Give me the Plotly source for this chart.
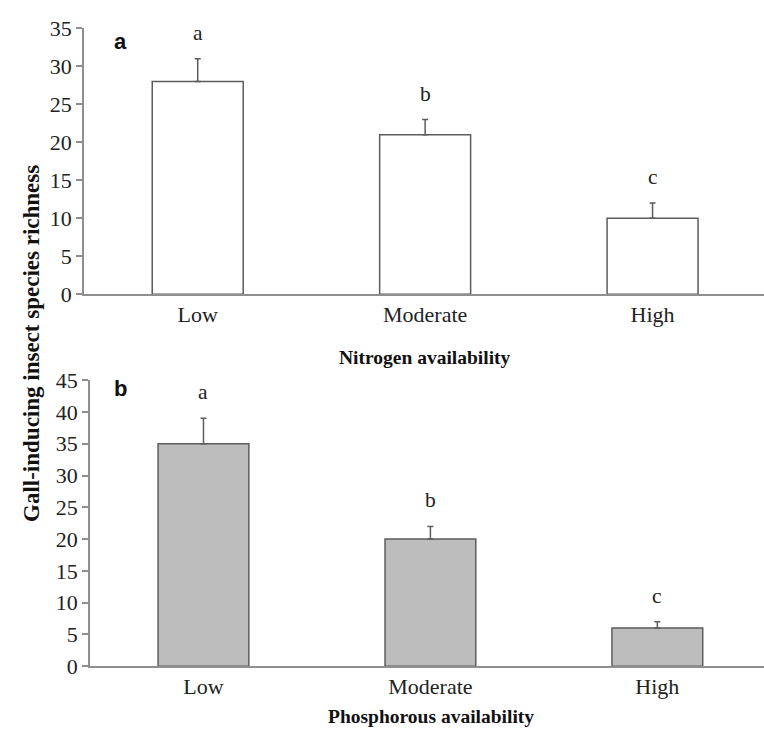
import plotly.graph_objects as go

categories = ["Low", "Moderate", "High"]
nitrogen_vals = [28, 21, 10]
nitrogen_err = [3, 2, 2]
nitrogen_letters = ["a", "b", "c"]
phos_vals = [35, 20, 6]
phos_err = [4, 2, 1]
phos_letters = ["a", "b", "c"]

W, H = 764, 743
def py(p):
    return 1 - p / H

serif = "Liberation Serif"
sans = "Liberation Sans"
axis_col = "#8f8f8f"
edge_col = "#5c5c5c"

fig = go.Figure()
fig.add_trace(go.Bar(
    x=categories, y=nitrogen_vals, width=0.40,
    marker=dict(color="white", line=dict(color=edge_col, width=1.5)),
    error_y=dict(type="data", array=nitrogen_err, arrayminus=[0]*3, symmetric=False,
                 color=edge_col, thickness=1.5, width=3),
    xaxis="x", yaxis="y", showlegend=False))
fig.add_trace(go.Bar(
    x=categories, y=phos_vals, width=0.40,
    marker=dict(color="#bdbdbd", line=dict(color=edge_col, width=1.5)),
    error_y=dict(type="data", array=phos_err, arrayminus=[0]*3, symmetric=False,
                 color=edge_col, thickness=1.5, width=3),
    xaxis="x2", yaxis="y2", showlegend=False))

annotations = []
for c, v, e, t in zip(categories, nitrogen_vals, nitrogen_err, nitrogen_letters):
    annotations.append(dict(x=c, y=v + e, xref="x", yref="y", text=t, showarrow=False,
                            yanchor="bottom", yshift=12, font=dict(family=serif, size=21.5, color="#222")))
for c, v, e, t in zip(categories, phos_vals, phos_err, phos_letters):
    annotations.append(dict(x=c, y=v + e, xref="x2", yref="y2", text=t, showarrow=False,
                            yanchor="bottom", yshift=12, font=dict(family=serif, size=21.5, color="#222")))

annotations += [
    dict(x=112 / W, y=py(16), xref="paper", yref="paper", text="<b>a</b>", showarrow=False,
         font=dict(family=sans, size=22, color="#111")),
    dict(x=112 / W, y=py(390), xref="paper", yref="paper", text="<b>b</b>", showarrow=False,
         font=dict(family=sans, size=22, color="#111")),
    dict(x=425 / W, y=py(358), xref="paper", yref="paper", text="<b>Nitrogen availability</b>",
         showarrow=False, font=dict(family=serif, size=19.5, color="#111")),
    dict(x=431 / W, y=py(742), xref="paper", yref="paper", text="<b>Phosphorous availability</b>",
         yanchor="bottom", showarrow=False, font=dict(family=serif, size=19.5, color="#111")),
    dict(x=17 / W, y=py(343), xref="paper", yref="paper",
         text="<b>Gall-inducing insect species richness</b>", textangle=-90,
         showarrow=False, font=dict(family=serif, size=23, color="#111")),
]

tickfont = dict(family=serif, size=22, color="#222")
fig.update_layout(
    width=W, height=H, margin=dict(l=0, r=0, t=0, b=0),
    paper_bgcolor="white", plot_bgcolor="white",
    font=dict(family=serif),
    annotations=annotations,
    xaxis=dict(domain=[84 / W, 1], range=[-0.5, 2.49], anchor="y", showline=True,
               linecolor=axis_col, linewidth=1.5, ticks="", tickfont=tickfont, showgrid=False),
    yaxis=dict(domain=[py(292), py(17)], range=[0, 35], anchor="x", showline=True,
               linecolor=axis_col, linewidth=1.5, ticks="outside", ticklen=6, tickcolor=axis_col,
               tickwidth=1.5, dtick=5, tickfont=tickfont, showgrid=False, zeroline=False),
    xaxis2=dict(domain=[90 / W, 1], range=[-0.5, 2.47], anchor="y2", showline=True,
                linecolor=axis_col, linewidth=1.5, ticks="", tickfont=tickfont, showgrid=False),
    yaxis2=dict(domain=[py(677), py(381)], range=[0, 45], anchor="x2", showline=True,
                linecolor=axis_col, linewidth=1.5, ticks="outside", ticklen=6, tickcolor=axis_col,
                tickwidth=1.5, dtick=5, tickfont=tickfont, showgrid=False, zeroline=False),
)

fig.write_html("out.html")
